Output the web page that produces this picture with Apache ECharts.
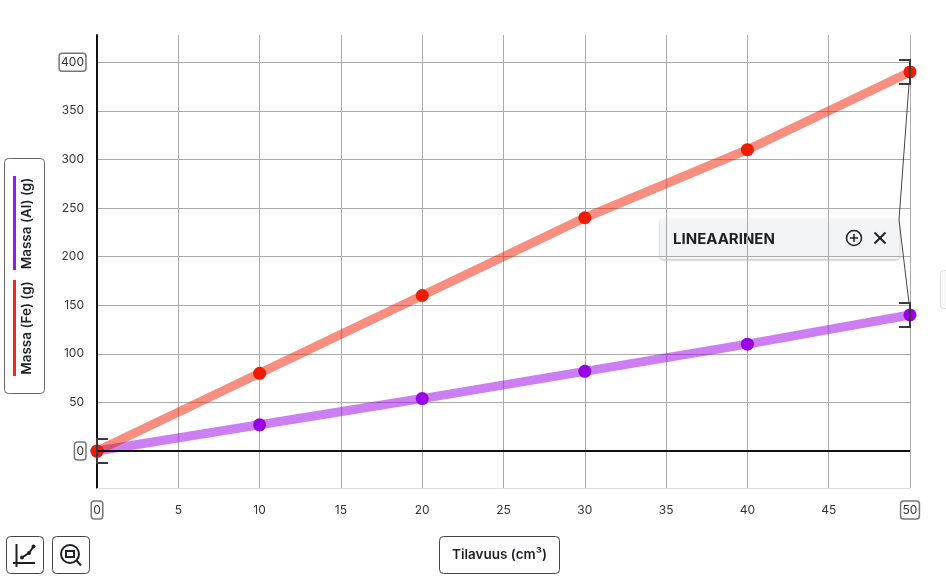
<!DOCTYPE html>
<html>
<head>
<meta charset="utf-8">
<style>
  html, body { margin: 0; padding: 0; background: #fff; }
  #chart { width: 946px; height: 580px; }
</style>
<script src="https://cdn.jsdelivr.net/npm/echarts@6/dist/echarts.min.js"></script>
</head>
<body>
<div id="chart"></div>
<script>
const volumes = [0, 10, 20, 30, 40, 50]
const massFe = [0, 80, 160, 240, 310, 390]
const massAl = [0, 27, 54, 82, 110, 140]
const yTicks = [0, 50, 100, 150, 200, 250, 300, 350, 400]
const boxedX = [0, 50]
const boxedY = [0, 400]
const selected = [[0, 0, 'left'], [50, 390, 'right'], [50, 140, 'right']]

const nameFe = 'Massa (Fe) (g)'
const nameAl = 'Massa (Al) (g)'
const nameX = 'Tilavuus (cm³)'
const fitLabel = 'LINEAARINEN'

const font = 'Inter, "Noto Sans", sans-serif'
const ink = '#1f2024'
const anchor = [899, 220] // corner of the fit label where the leader lines meet

const chart = echarts.init(document.getElementById('chart'))

function tickLabel(boxed) {
  return (val) => (boxed.includes(val) ? `{box|${val}}` : `{plain|${val}}`)
}

const labelBase = {
  fontFamily: font,
  fontSize: 12,
  color: '#333',
  padding: [3, 2, 3, 2]
}
const boxRich = {
  plain: labelBase,
  box: { ...labelBase, borderColor: '#777', borderWidth: 1.5, borderRadius: 3 }
}

function renderBracket(params, api) {
  const [px, py] = api.coord([api.value(0), api.value(1)])
  const side = selected[params.dataIndex][2]
  const dir = side === 'left' ? 1 : -1
  const stroke = { stroke: '#3a3a3a', lineWidth: 2, fill: 'none' }
  const children = [{
    type: 'polyline',
    shape: { points: [[px + dir * 11, py - 12], [px, py - 12], [px, py + 12], [px + dir * 11, py + 12]] },
    style: stroke
  }]
  if (side === 'right') {
    const end = py < anchor[1] ? py + 12 : py - 12
    children.push({
      type: 'line',
      shape: { x1: px - 1, y1: end, x2: anchor[0], y2: anchor[1] },
      style: { stroke: '#444', lineWidth: 1 }
    })
  }
  return { type: 'group', children }
}

function button(x, y, w, h) {
  return {
    type: 'rect',
    shape: { x, y, width: w, height: h, r: 4 },
    style: { fill: '#fff', stroke: '#444', lineWidth: 1 }
  }
}

const iconLine = { stroke: ink, lineWidth: 2, fill: 'none' }

chart.setOption({
  animation: false,
  textStyle: { fontFamily: font },
  grid: { left: 97, right: 36, top: 35, bottom: 92 },
  xAxis: {
    type: 'value',
    min: 0,
    max: 50,
    interval: 5,
    axisLine: { onZero: false, lineStyle: { color: '#ddd', width: 1 } },
    axisTick: { show: false },
    axisLabel: { margin: 13, formatter: tickLabel(boxedX), rich: boxRich },
    splitLine: { show: true, lineStyle: { color: '#aaa', width: 1 } }
  },
  yAxis: {
    type: 'value',
    min: -38,
    max: 428,
    axisLine: { show: true, onZero: false, lineStyle: { color: '#111', width: 2 } },
    axisTick: { show: false, customValues: yTicks },
    axisLabel: {
      margin: 11,
      customValues: yTicks,
      formatter: tickLabel(boxedY),
      rich: boxRich
    },
    splitLine: { show: true, lineStyle: { color: '#aaa', width: 1 } }
  },
  series: [
    {
      name: nameAl,
      type: 'line',
      data: volumes.map((v, i) => [v, massAl[i]]),
      clip: false,
      symbol: 'circle',
      symbolSize: 13,
      itemStyle: { color: '#9a00e6' },
      lineStyle: { color: '#9a00e6', width: 9, opacity: 0.5 },
      markLine: {
        silent: true,
        symbol: 'none',
        label: { show: false },
        lineStyle: { color: '#111', width: 2, type: 'solid' },
        data: [{ yAxis: 0 }]
      }
    },
    {
      name: nameFe,
      type: 'line',
      data: volumes.map((v, i) => [v, massFe[i]]),
      clip: false,
      symbol: 'circle',
      symbolSize: 13,
      itemStyle: { color: '#ee1c00' },
      lineStyle: { color: '#f01e00', width: 9, opacity: 0.5 }
    },
    {
      type: 'custom',
      data: selected.map((s) => [s[0], s[1]]),
      clip: false,
      z: 5,
      silent: true,
      renderItem: renderBracket
    }
  ],
  graphic: [
    // series box on the left
    {
      type: 'group',
      z: 20,
      children: [
        { type: 'rect', shape: { x: 4.5, y: 158.5, width: 40, height: 235, r: 4 }, style: { fill: '#fff', stroke: '#666', lineWidth: 1 } },
        { type: 'rect', shape: { x: 13, y: 176, width: 3, height: 94 }, style: { fill: '#a010f8' } },
        { type: 'rect', shape: { x: 13, y: 280, width: 3, height: 96 }, style: { fill: '#f8280f' } },
        { type: 'text', x: 27, y: 223.5, rotation: Math.PI / 2, style: { text: nameAl, font: `600 13.5px ${font}`, fill: ink, textAlign: 'center', textVerticalAlign: 'middle' } },
        { type: 'text', x: 27, y: 328, rotation: Math.PI / 2, style: { text: nameFe, font: `600 13.5px ${font}`, fill: ink, textAlign: 'center', textVerticalAlign: 'middle' } }
      ]
    },
    // x axis title
    {
      type: 'group',
      z: 20,
      children: [
        button(439.5, 536.5, 120, 37),
        { type: 'text', x: 499.5, y: 555, style: { text: nameX, font: `600 13.5px ${font}`, fill: ink, textAlign: 'center', textVerticalAlign: 'middle' } }
      ]
    },
    // graph button
    {
      type: 'group',
      z: 20,
      children: [
        button(6.5, 536.5, 37, 37),
        { type: 'polyline', shape: { points: [[16.5, 544], [16.5, 567]] }, style: iconLine },
        { type: 'polyline', shape: { points: [[13, 563], [35, 563]] }, style: iconLine },
        { type: 'polyline', shape: { points: [[22, 557.5], [29, 553], [33.5, 546.5]] }, style: iconLine },
        { type: 'circle', shape: { cx: 22, cy: 557.5, r: 2 }, style: { fill: ink } },
        { type: 'circle', shape: { cx: 29, cy: 553, r: 2 }, style: { fill: ink } },
        { type: 'circle', shape: { cx: 33.5, cy: 546.5, r: 2 }, style: { fill: ink } }
      ]
    },
    // zoom button
    {
      type: 'group',
      z: 20,
      children: [
        button(52.5, 536.5, 37, 37),
        { type: 'circle', shape: { cx: 70, cy: 554, r: 9 }, style: iconLine },
        { type: 'rect', shape: { x: 66, y: 551, width: 8, height: 6 }, style: iconLine },
        { type: 'polyline', shape: { points: [[76.5, 560.5], [81, 565.5]] }, style: iconLine }
      ]
    },
    // fit label
    {
      type: 'group',
      z: 20,
      children: [
        {
          type: 'rect',
          shape: { x: 660, y: 219, width: 239.5, height: 40, r: 3 },
          style: { fill: '#f3f4f6', shadowBlur: 3, shadowOffsetY: 1, shadowColor: 'rgba(0,0,0,0.3)' }
        },
        { type: 'text', x: 673, y: 239, style: { text: fitLabel, font: `700 15px ${font}`, fill: ink, textAlign: 'left', textVerticalAlign: 'middle' } },
        { type: 'circle', shape: { cx: 854, cy: 238, r: 7.5 }, style: { stroke: ink, lineWidth: 1.5, fill: 'none' } },
        { type: 'polyline', shape: { points: [[850, 238], [858, 238]] }, style: { stroke: ink, lineWidth: 1.5 } },
        { type: 'polyline', shape: { points: [[854, 234], [854, 242]] }, style: { stroke: ink, lineWidth: 1.5 } },
        { type: 'polyline', shape: { points: [[874.5, 232.5], [885.5, 243.5]] }, style: { stroke: ink, lineWidth: 2 } },
        { type: 'polyline', shape: { points: [[885.5, 232.5], [874.5, 243.5]] }, style: { stroke: ink, lineWidth: 2 } }
      ]
    },
    // edge of the panel that is cut off at the right
    {
      type: 'rect',
      z: 20,
      shape: { x: 940.5, y: 270.5, width: 12, height: 38, r: 3 },
      style: { fill: '#f8f8f9', stroke: '#ddd', lineWidth: 1 }
    }
  ]
})
</script>
</body>
</html>
